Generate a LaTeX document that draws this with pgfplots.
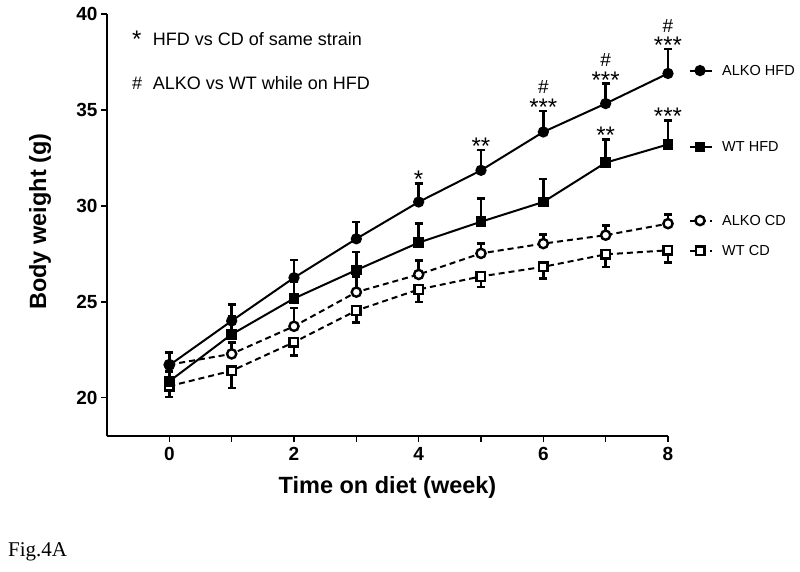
\documentclass[border=0pt]{standalone}
\usepackage{pgfplots}
\pgfplotsset{compat=1.18}
\usepackage{fontspec}
\setmainfont{Liberation Sans}
\newfontfamily\seriffont{Liberation Serif}
\newcommand\starfont{\fontsize{24bp}{24bp}\selectfont}
\newcommand\hashfont{\fontsize{19bp}{19bp}\selectfont}
\newcommand\legfont{\fontsize{14.5bp}{14.5bp}\selectfont}
\newcommand\notefont{\fontsize{18bp}{18bp}\selectfont}

\begin{document}
\begin{tikzpicture}
\path[use as bounding box] (0,0) rectangle (800bp,572bp);
\begin{axis}[
  at={(107bp,136bp)}, anchor=south west,
  scale only axis, width=561bp, height=422bp,
  xmin=-1, xmax=8, ymin=18, ymax=40,
  clip=false,
  axis x line=bottom, axis y line=left,
  axis line style={-, line width=2bp},
  xtick={0,...,8}, xticklabels={0,,2,,4,,6,,8},
  ytick={20,25,30,35,40},
  tick align=outside, major tick length=6bp,
  tick style={line width=1.6bp, black},
  ticklabel style={font=\fontsize{19bp}{19bp}\selectfont\bfseries},
  xticklabel style={yshift=-2bp},
  /pgf/number format/assume math mode=true,
  xlabel={Time on diet (week)},
  ylabel={Body weight (g)},
  xlabel style={font=\fontsize{23.5bp}{23.5bp}\selectfont\bfseries, at={(axis description cs:0.5,-0.121)}, anchor=center},
  ylabel style={font=\fontsize{23.5bp}{23.5bp}\selectfont\bfseries, at={(axis description cs:-0.1194,0.508)}, anchor=center},
  every axis plot/.append style={line width=2bp, black},
  error bars/error bar style={line width=2.6bp, solid},
  error bars/error mark options={rotate=90, mark size=4bp, line width=2.6bp, solid},
]
% WT CD (open square, dashed, error down)
\addplot[dash pattern=on 6bp off 4bp, mark=square*, mark size=4.3bp,
  mark options={solid, fill=white, line width=2.4bp},
  error bars/.cd, y dir=minus, y explicit]
coordinates {
 (0,20.60) -= (0,0.56)
 (1,21.40) -= (0,0.90)
 (2,22.89) -= (0,0.69)
 (3,24.54) -= (0,0.61)
 (4,25.64) -= (0,0.66)
 (5,26.32) -= (0,0.56)
 (6,26.82) -= (0,0.60)
 (7,27.47) -= (0,0.65)
 (8,27.68) -= (0,0.65)
};
% ALKO CD (open circle, dashed, error up)
\addplot[dash pattern=on 6bp off 4bp, mark=*, mark size=4.6bp,
  mark options={solid, fill=white, line width=2.4bp},
  error bars/.cd, y dir=plus, y explicit]
coordinates {
 (0,21.72) += (0,0.60)
 (1,22.28) += (0,0.60)
 (2,23.72) += (0,0.96)
 (3,25.50) += (0,0.80)
 (4,26.42) += (0,0.73)
 (5,27.52) += (0,0.51)
 (6,28.03) += (0,0.47)
 (7,28.47) += (0,0.51)
 (8,29.07) += (0,0.47)
};
% WT HFD (filled square, solid, error up)
\addplot[solid, mark=square*, mark size=4.3bp, mark options={solid, fill=black},
  error bars/.cd, y dir=plus, y explicit]
coordinates {
 (0,20.85) += (0,0.50)
 (1,23.30) += (0,0.94)
 (2,25.17) += (0,0.90)
 (3,26.65) += (0,0.95)
 (4,28.08) += (0,0.99)
 (5,29.17) += (0,1.20)
 (6,30.20) += (0,1.20)
 (7,32.25) += (0,1.22)
 (8,33.20) += (0,1.26)
};
% ALKO HFD (filled circle, solid, error up)
\addplot[solid, mark=*, mark size=4.6bp, mark options={solid, fill=black},
  error bars/.cd, y dir=plus, y explicit]
coordinates {
 (0,21.69) += (0,0.68)
 (1,24.00) += (0,0.84)
 (2,26.25) += (0,0.92)
 (3,28.28) += (0,0.87)
 (4,30.20) += (0,0.97)
 (5,31.85) += (0,1.05)
 (6,33.85) += (0,1.10)
 (7,35.33) += (0,1.04)
 (8,36.90) += (0,1.27)
};

% legend samples
\addplot[forget plot, solid] coordinates {(8.354,37.05) (8.707,37.05)};
\addplot[forget plot, only marks, mark=*, mark size=4.6bp, mark options={fill=black}] coordinates {(8.514,37.05)};
\addplot[forget plot, solid] coordinates {(8.354,33.07) (8.707,33.07)};
\addplot[forget plot, only marks, mark=square*, mark size=4.3bp, mark options={fill=black}] coordinates {(8.514,33.07)};
\addplot[forget plot, dash pattern=on 6bp off 4bp] coordinates {(8.354,29.23) (8.707,29.23)};
\addplot[forget plot, only marks, mark=*, mark size=4.6bp, mark options={fill=white, line width=2.4bp}] coordinates {(8.514,29.23)};
\addplot[forget plot, dash pattern=on 6bp off 4bp] coordinates {(8.354,27.65) (8.707,27.65)};
\addplot[forget plot, only marks, mark=square*, mark size=4.3bp, mark options={fill=white, line width=2.4bp}] coordinates {(8.514,27.65)};

\node[anchor=west, font=\legfont, inner sep=0pt] at (axis cs:8.867,37.05) {ALKO HFD};
\node[anchor=west, font=\legfont, inner sep=0pt] at (axis cs:8.867,33.07) {WT HFD};
\node[anchor=west, font=\legfont, inner sep=0pt] at (axis cs:8.867,29.23) {ALKO CD};
\node[anchor=west, font=\legfont, inner sep=0pt] at (axis cs:8.867,27.65) {WT CD};

% significance marks
\node[anchor=base, font=\starfont, inner sep=0pt, yshift=-4.4bp] at (axis cs:4,31.17) {*};
\node[anchor=base, font=\starfont, inner sep=0pt, yshift=-4.4bp] at (axis cs:5,32.90) {**};
\node[anchor=base, font=\starfont, inner sep=0pt, yshift=-4.4bp] at (axis cs:6,34.95) {***};
\node[anchor=base, font=\hashfont, inner sep=0pt, yshift=17bp] at (axis cs:6,34.95) {\#};
\node[anchor=base, font=\starfont, inner sep=0pt, yshift=-4.4bp] at (axis cs:7,36.37) {***};
\node[anchor=base, font=\hashfont, inner sep=0pt, yshift=17bp] at (axis cs:7,36.37) {\#};
\node[anchor=base, font=\starfont, inner sep=0pt, yshift=-4.4bp] at (axis cs:8,38.17) {***};
\node[anchor=base, font=\hashfont, inner sep=0pt, yshift=17bp] at (axis cs:8,38.17) {\#};
\node[anchor=base, font=\starfont, inner sep=0pt, yshift=-4.4bp] at (axis cs:7,33.47) {**};
\node[anchor=base, font=\starfont, inner sep=0pt, yshift=-4.4bp] at (axis cs:8,34.46) {***};
\end{axis}

% annotation notes
\node[anchor=base west, font=\starfont, inner sep=0pt] at (132bp,524bp) {*};
\node[anchor=base west, font=\notefont, inner sep=0pt] at (152.7bp,526bp) {HFD vs CD of same strain};
\node[anchor=base west, font=\notefont, inner sep=0pt] at (132bp,482.7bp) {\#};
\node[anchor=base west, font=\notefont, inner sep=0pt] at (152.7bp,482.7bp) {ALKO vs WT while on HFD};

\node[anchor=base west, font=\seriffont\fontsize{21bp}{21bp}\selectfont, inner sep=0pt] at (8bp,16bp) {Fig.4A};
\end{tikzpicture}
\end{document}
